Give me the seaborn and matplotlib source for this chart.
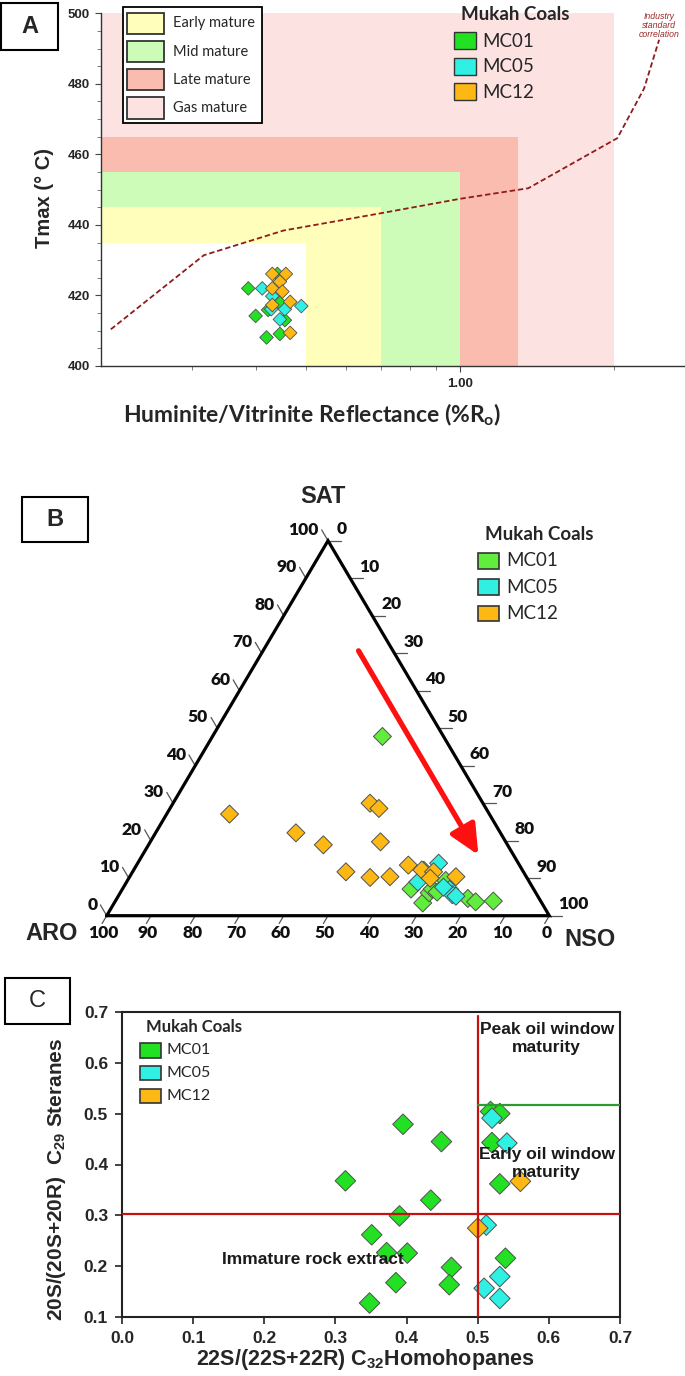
import numpy as np
import pandas as pd
import matplotlib
matplotlib.use('Agg')
import matplotlib.pyplot as plt
from matplotlib.patches import Rectangle
from matplotlib.ticker import FixedLocator, FixedFormatter, NullFormatter
import seaborn as sns

# ---------------- data ----------------
series = ['MC01', 'MC05', 'MC12']

# Panel A : Tmax vs reflectance
a_mc01_ro = [0.386, 0.399, 0.419, 0.445, 0.440, 0.445, 0.455, 0.422]
a_mc01_tmax = [422.0, 414.2, 408.1, 409.1, 426.1, 417.9, 413.0, 415.9]
a_mc05_ro = [0.411, 0.490, 0.445, 0.455, 0.428, 0.430, 0.439]
a_mc05_tmax = [422.0, 417.0, 413.2, 416.1, 416.1, 419.8, 423.0]
a_mc12_ro = [0.430, 0.457, 0.445, 0.430, 0.450, 0.466, 0.430, 0.466]
a_mc12_tmax = [426.1, 426.1, 423.9, 422.0, 421.1, 418.2, 417.3, 409.4]

zone_names = ['Early mature', 'Mid mature', 'Late mature', 'Gas mature']
zone_ro_max = [0.7, 1.0, 1.3, 2.0]
zone_tmax_max = [445, 455, 465, 500]
immature_ro_max = 0.5
immature_tmax_max = 435

industry_ro = [0.208, 0.316, 0.452, 0.70, 1.0, 1.36, 2.03, 2.29, 2.45]
industry_tmax = [410.4, 431.4, 438.4, 443.3, 447.4, 450.4, 464.6, 478.7, 492.5]

# Panel B : ternary SAT / ARO / NSO (%)
b_mc01_sat = [47.8, 7.1, 3.4, 6.1, 7.1, 9.4, 4.6, 3.7, 3.9, 6.3]
b_mc01_aro = [13.8, 27.7, 26.9, 24.1, 22.9, 18.7, 16.1, 14.8, 10.7, 22.2]
b_mc01_nso = [38.4, 65.2, 69.7, 69.8, 70.0, 71.9, 79.3, 81.5, 85.4, 71.5]
b_mc05_sat = [14.0, 9.0, 12.1, 7.0, 5.6, 5.2, 7.6]
b_mc05_aro = [18.0, 25.2, 22.3, 19.0, 19.1, 18.5, 20.1]
b_mc05_nso = [68.0, 65.8, 65.6, 74.0, 75.3, 76.3, 72.3]
b_mc12_sat = [27.1, 30.0, 28.6, 22.1, 18.9, 19.7, 11.7, 10.2, 10.4, 13.5, 12.2, 11.7, 10.0, 10.4]
b_mc12_aro = [58.7, 25.5, 24.2, 46.2, 41.6, 28.3, 40.1, 35.4, 30.8, 25.1, 22.7, 20.3, 21.9, 15.9]
b_mc12_nso = [14.2, 44.5, 47.2, 31.7, 39.5, 52.0, 48.2, 54.4, 58.8, 61.4, 65.1, 68.0, 68.1, 73.7]
tern_ticks = list(range(0, 101, 10))

# Panel C : biomarker maturity
c_mc01_hop = [0.395, 0.449, 0.314, 0.434, 0.390, 0.351, 0.372, 0.401, 0.463, 0.385, 0.460, 0.348,
              0.518, 0.531, 0.520, 0.531, 0.539]
c_mc01_ster = [0.479, 0.445, 0.368, 0.330, 0.299, 0.262, 0.227, 0.226, 0.198, 0.168, 0.164, 0.128,
               0.504, 0.500, 0.443, 0.362, 0.216]
c_mc05_hop = [0.520, 0.541, 0.512, 0.531, 0.509, 0.531]
c_mc05_ster = [0.491, 0.442, 0.281, 0.180, 0.157, 0.137]
c_mc12_hop = [0.560, 0.500]
c_mc12_ster = [0.367, 0.275]
c_hop_threshold = 0.5
c_ster_immature = 0.302
c_ster_peak = 0.517
c_xticks = [0.0, 0.1, 0.2, 0.3, 0.4, 0.5, 0.6, 0.7]
c_yticks = [0.1, 0.2, 0.3, 0.4, 0.5, 0.6, 0.7]

# ---------------- style ----------------
sns.set_style('ticks')
plt.rcParams['font.family'] = ['Liberation Sans', 'DejaVu Sans']
ARIAL = ['Liberation Sans', 'DejaVu Sans']
CAL = ['Lato', 'DejaVu Sans']

col_green = '#22e022'
col_green_b = '#62ec3e'
col_cyan = '#30f0e4'
col_orange = '#fdb813'
pal_a = dict(zip(series, [col_green, col_cyan, col_orange]))
pal_b = dict(zip(series, [col_green_b, col_cyan, col_orange]))
zone_colors = ['#ffffbb', '#ccfcb8', '#fbbcb0', '#fde2e2']

W, H = 685, 1376
fig = plt.figure(figsize=(W / 100, H / 100), dpi=100)


def fx(x):
    return x / W


def fy(y):
    return 1 - y / H


def box(x0, y0, x1, y1, **kw):
    r = Rectangle((fx(x0), fy(y1)), (x1 - x0) / W, (y1 - y0) / H,
                  transform=fig.transFigure, **kw)
    fig.add_artist(r)


def ftext(x, y, s, **kw):
    fig.text(fx(x), fy(y), s, **kw)


def frame_letter(x0, y0, x1, y1, letter, weight='bold'):
    box(x0, y0, x1, y1, facecolor='white', edgecolor='black', lw=1.5)
    ftext((x0 + x1) / 2, (y0 + y1) / 2, letter, ha='center', va='center',
          fontsize=17, fontweight=weight, family=ARIAL)


# ======================= Panel A =======================
x_lo, x_hi = 0.199, 2.74
ax_a = fig.add_axes([fx(101), fy(366), (684 - 101) / W, (366 - 13.3) / H])
ax_a.set_xscale('log')
ax_a.set_xlim(x_lo, x_hi)
ax_a.set_ylim(400, 500)
for name, ro_max, t_max, col in reversed(list(zip(zone_names, zone_ro_max, zone_tmax_max, zone_colors))):
    ax_a.add_patch(Rectangle((x_lo, 400), ro_max - x_lo, t_max - 400, facecolor=col,
                             edgecolor='none', zorder=0))
ax_a.add_patch(Rectangle((x_lo, 400), immature_ro_max - x_lo, immature_tmax_max - 400,
                         facecolor='white', edgecolor='none', zorder=0))
ax_a.plot(industry_ro, industry_tmax, ls=(0, (3, 1.6)), color='#8e1c1c', lw=1.3, zorder=2)

df_a = pd.DataFrame({
    'Sample': ['MC01'] * len(a_mc01_ro) + ['MC05'] * len(a_mc05_ro) + ['MC12'] * len(a_mc12_ro),
    'Ro': a_mc01_ro + a_mc05_ro + a_mc12_ro,
    'Tmax': a_mc01_tmax + a_mc05_tmax + a_mc12_tmax,
})
sns.scatterplot(data=df_a, x='Ro', y='Tmax', hue='Sample', palette=pal_a, marker='D', s=48,
                edgecolor='#505050', linewidth=0.6, legend=False, ax=ax_a, zorder=5)
ax_a.set_xlabel('')
ax_a.set_ylabel('')
ax_a.xaxis.set_major_locator(FixedLocator([1.0]))
ax_a.xaxis.set_major_formatter(FixedFormatter(['1.00']))
ax_a.xaxis.set_minor_locator(FixedLocator([0.3, 0.4, 0.5, 0.6, 0.7, 0.8, 0.9, 2.0]))
ax_a.xaxis.set_minor_formatter(NullFormatter())
ax_a.yaxis.set_major_locator(FixedLocator(list(range(400, 501, 20))))
ax_a.yaxis.set_minor_locator(FixedLocator(list(range(400, 501, 5))))
ax_a.tick_params(which='major', direction='out', length=4, width=0.8, color='#444444',
                 labelsize=9.5, pad=4)
ax_a.tick_params(which='minor', direction='out', length=3, width=0.6, color='#666666')
ax_a.tick_params(axis='x', which='major', pad=5)
for lab in ax_a.get_xticklabels() + ax_a.get_yticklabels():
    lab.set_fontweight('bold')
for sp in ['top', 'right']:
    ax_a.spines[sp].set_visible(False)
for sp in ['left', 'bottom']:
    ax_a.spines[sp].set_color('#333333')
    ax_a.spines[sp].set_linewidth(1.0)

ftext(44, 198, 'Tmax (° C)', rotation=90, ha='center', va='center', fontsize=14.5,
      fontweight='bold', family=ARIAL)
ftext(312.5, 415, 'Huminite/Vitrinite Reflectance (%R$_\\mathregular{o}$)', ha='center', va='center',
      fontsize=16.5, fontweight='bold', family=CAL)
ftext(659, 25.5, 'Industry\nstandard\ncorrelation', ha='center', va='center', fontsize=6.3,
      style='italic', color='#9b2a2a', linespacing=0.95)

# zone legend
box(123, 6.7, 262, 123, facecolor='white', edgecolor='black', lw=1.3)
for i, (name, col) in enumerate(zip(zone_names, zone_colors)):
    y0 = 12.7 + i * 28.2
    box(127, y0, 164, y0 + 21.3, facecolor=col, edgecolor='#333333', lw=1.3)
    ftext(173, y0 + 10.7, name, ha='left', va='center', fontsize=10.5, family=CAL)

# series legend
ftext(515, 15, 'Mukah Coals', ha='center', va='center', fontsize=13.5, fontweight='bold', family=CAL)
for i, name in enumerate(series):
    y0 = 32.3 + i * 25.5
    box(454, y0, 476, y0 + 17, facecolor=pal_a[name], edgecolor='#333333', lw=1.0)
    ftext(482, y0 + 8.8, name, ha='left', va='center', fontsize=13.5, family=CAL)

frame_letter(1, 3, 58, 50, 'A')

# ======================= Panel B =======================
ax_b = fig.add_axes([fx(106.7), fy(915.7), 442.6 / W, 375 / H])
ax_b.set_xlim(0, 1)
ax_b.set_ylim(0, 1)
ax_b.axis('off')
PX, PY = 1 / 442.6, 1 / 375
ax_b.plot([0, 1, 0.5, 0], [0, 0, 1, 0], color='black', lw=2.3, solid_joinstyle='miter',
          clip_on=False, zorder=3)
tk = dict(color='#555555', lw=0.9, clip_on=False, zorder=2)
lab_kw = dict(fontsize=12.5, fontweight='heavy', family=CAL, color='#111111')
for val in tern_ticks:
    # SAT (left edge)
    p = (val / 200, val / 100)
    e = (p[0] - 6.3 * PX, p[1] + 10.8 * PY)
    ax_b.plot([p[0], e[0]], [p[1], e[1]], **tk)
    ax_b.text(e[0] - 3 * PX, e[1], str(val), ha='right', va='center', **lab_kw)
    # NSO (right edge)
    p = (0.5 + val / 200, 1 - val / 100)
    ax_b.plot([p[0], p[0] + 13 * PX], [p[1], p[1]], **tk)
    ax_b.text(p[0] + 9 * PX, p[1] + 11.5 * PY, str(val), ha='left', va='center', **lab_kw)
    # ARO (base)
    p = ((100 - val) / 100, 0)
    ax_b.plot([p[0], p[0] - 4.6 * PX], [0, -7.8 * PY], **tk)
    ax_b.text(p[0] - 3 * PX, -17 * PY, str(val), ha='center', va='center', **lab_kw)

sat = b_mc01_sat + b_mc05_sat + b_mc12_sat
aro = b_mc01_aro + b_mc05_aro + b_mc12_aro
nso = b_mc01_nso + b_mc05_nso + b_mc12_nso
df_b = pd.DataFrame({
    'Sample': ['MC01'] * len(b_mc01_sat) + ['MC05'] * len(b_mc05_sat) + ['MC12'] * len(b_mc12_sat),
    'SAT': sat, 'ARO': aro, 'NSO': nso})
tot = df_b['SAT'] + df_b['ARO'] + df_b['NSO']
df_b['u'] = (df_b['NSO'] + df_b['SAT'] / 2) / tot
df_b['v'] = df_b['SAT'] / tot
sns.scatterplot(data=df_b, x='u', y='v', hue='Sample', palette=pal_b, marker='D', s=84,
                edgecolor='#505050', linewidth=0.7, legend=False, ax=ax_b, zorder=5, clip_on=False)

ax_b.annotate('', xy=(0.8398, 0.1619), xytext=(0.569, 0.7064),
              arrowprops=dict(arrowstyle='-|>,head_length=0.9,head_width=0.42', color='#ff1010',
                              lw=3.8, mutation_scale=20, shrinkA=0, shrinkB=0), zorder=4)

ftext(322.7, 496.7, 'SAT', ha='center', va='center', fontsize=17, fontweight='bold', family=ARIAL)
ftext(52, 933, 'ARO', ha='center', va='center', fontsize=17, fontweight='bold', family=ARIAL)
ftext(590, 939, 'NSO', ha='center', va='center', fontsize=17, fontweight='bold', family=ARIAL)

ftext(539, 534.3, 'Mukah Coals', ha='center', va='center', fontsize=13.5, fontweight='bold', family=CAL)
for i, name in enumerate(series):
    y0 = 553 + i * 26.3
    box(478, y0, 499, y0 + 15.5, facecolor=pal_b[name], edgecolor='#333333', lw=1.2)
    ftext(506, y0 + 7.8, name, ha='left', va='center', fontsize=13.5, family=CAL)

frame_letter(22, 497, 88, 542, 'B')

# ======================= Panel C =======================
ax_c = fig.add_axes([fx(122), fy(1317.3), 498 / W, 305.6 / H])
df_c = pd.DataFrame({
    'Sample': ['MC01'] * len(c_mc01_hop) + ['MC05'] * len(c_mc05_hop) + ['MC12'] * len(c_mc12_hop),
    'hop': c_mc01_hop + c_mc05_hop + c_mc12_hop,
    'ster': c_mc01_ster + c_mc05_ster + c_mc12_ster})
sns.scatterplot(data=df_c, x='hop', y='ster', hue='Sample', palette=pal_a, marker='D', s=110,
                edgecolor='#505050', linewidth=0.7, legend=False, ax=ax_c, zorder=4)
ax_c.set_xlim(c_xticks[0], c_xticks[-1])
ax_c.set_ylim(c_yticks[0], c_yticks[-1])
ax_c.axvline(c_hop_threshold, ymin=0, ymax=0.985, color='#c41212', lw=1.6, zorder=5)
ax_c.axhline(c_ster_immature, color='#c41212', lw=1.6, zorder=5)
ax_c.plot([c_hop_threshold, c_xticks[-1]], [c_ster_peak, c_ster_peak], color='#2f9a2f', lw=1.6, zorder=5)
ax_c.set_xticks(c_xticks)
ax_c.set_xticklabels([f'{v:.1f}' for v in c_xticks])
ax_c.set_yticks(c_yticks)
ax_c.set_yticklabels([f'{v:.1f}' for v in c_yticks])
ax_c.tick_params(direction='out', length=5, width=1.2, color='#222222', labelsize=12.5, pad=5)
for lab in ax_c.get_xticklabels() + ax_c.get_yticklabels():
    lab.set_fontweight('bold')
for sp in ax_c.spines.values():
    sp.set_visible(True)
    sp.set_color('#222222')
    sp.set_linewidth(1.5)
ax_c.set_xlabel('')
ax_c.set_ylabel('')

txt_kw = dict(ha='center', va='center', fontsize=12.5, fontweight='bold', family=ARIAL,
              color='#1a1a1a', zorder=6, linespacing=1.25)
ax_c.text(0.597, 0.647, 'Peak oil window\nmaturity', **txt_kw)
ax_c.text(0.597, 0.401, 'Early oil window\nmaturity', **txt_kw)
ax_c.text(0.268, 0.214, 'Immature rock extract', **txt_kw)

ftext(56, 1179, '20S/(20S+20R)  C$_\\mathregular{29}$ Steranes', rotation=90, ha='center', va='center',
      fontsize=15, fontweight='bold', family=ARIAL)
ftext(365, 1360, '22S/(22S+22R) C$_\\mathregular{32}$Homohopanes', ha='center', va='center',
      fontsize=15.5, fontweight='bold', family=ARIAL)

ftext(194, 1027.3, 'Mukah Coals', ha='center', va='center', fontsize=12, fontweight='bold', family=CAL)
for i, name in enumerate(series):
    y0 = 1043 + i * 22.8
    box(140, y0, 161, y0 + 14.5, facecolor=pal_a[name], edgecolor='#333333', lw=1.2)
    ftext(166, y0 + 7.2, name, ha='left', va='center', fontsize=11.5, family=CAL)

frame_letter(5, 978, 70, 1024, 'C', weight='normal')

fig.savefig('out.png', dpi=100)
